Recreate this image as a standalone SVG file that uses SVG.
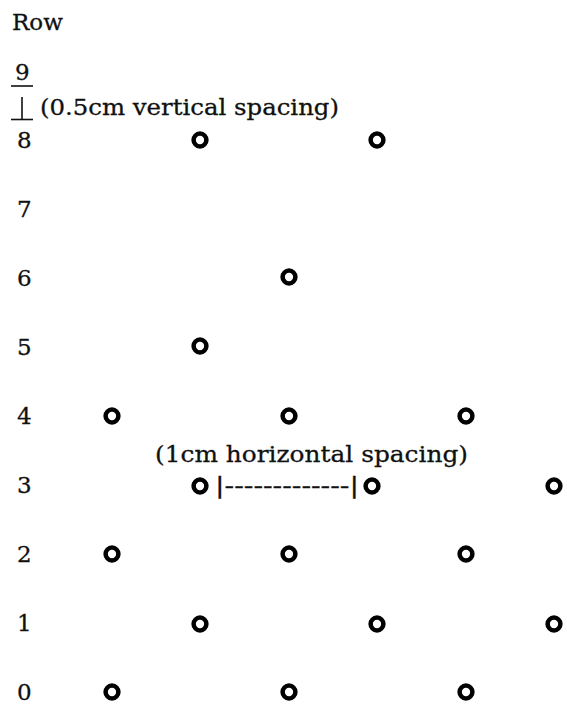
<svg xmlns="http://www.w3.org/2000/svg" width="567" height="709" viewBox="0 0 567 709">
  <style>
    .lbl { font-family: "DejaVu Serif", "Liberation Serif", serif; font-size: 23px; fill: #111; stroke: #111; stroke-width: 0.3; }
    .pin { fill: none; stroke: #000; stroke-width: 4.5; }
    .rule { stroke: #111; stroke-width: 1.6; fill: none; }
  </style>
  <defs>
    <circle id="peg" r="6.4" class="pin"/>
  </defs>
  <rect width="567" height="709" fill="#fff"/>

  <!-- header and row numbers -->
  <g id="row-axis">
    <text class="lbl" x="12" y="30">Row</text>
    <text class="lbl" x="15" y="80">9</text>
    <text class="lbl" x="17" y="148">8</text>
    <text class="lbl" x="17" y="217">7</text>
    <text class="lbl" x="17" y="286">6</text>
    <text class="lbl" x="17" y="355">5</text>
    <text class="lbl" x="17" y="424">4</text>
    <text class="lbl" x="17" y="493">3</text>
    <text class="lbl" x="17" y="562">2</text>
    <text class="lbl" x="17" y="631">1</text>
    <text class="lbl" x="17" y="700">0</text>
  </g>

  <!-- vertical spacing marker between rows 9 and 8 -->
  <g id="vertical-spacing">
    <line class="rule" x1="11" y1="86" x2="33" y2="86"/>
    <line class="rule" x1="22" y1="97" x2="22" y2="119"/>
    <line class="rule" x1="11" y1="119.5" x2="33" y2="119.5"/>
    <text class="lbl" x="40" y="115" textLength="299" lengthAdjust="spacingAndGlyphs">(0.5cm vertical spacing)</text>
  </g>

  <!-- horizontal spacing marker on row 3 -->
  <g id="horizontal-spacing">
    <text class="lbl" x="155" y="462" textLength="313" lengthAdjust="spacingAndGlyphs">(1cm horizontal spacing)</text>
    <text class="lbl" x="215" y="493" textLength="144" lengthAdjust="spacingAndGlyphs">|-------------|</text>
  </g>

  <!-- pegs -->
  <g id="row-8"><use href="#peg" x="200" y="140"/><use href="#peg" x="377" y="140"/></g>
  <g id="row-6"><use href="#peg" x="289" y="277"/></g>
  <g id="row-5"><use href="#peg" x="200" y="346"/></g>
  <g id="row-4"><use href="#peg" x="112" y="416"/><use href="#peg" x="289" y="416"/><use href="#peg" x="466" y="416"/></g>
  <g id="row-3"><use href="#peg" x="200" y="486"/><use href="#peg" x="372" y="486"/><use href="#peg" x="554" y="486"/></g>
  <g id="row-2"><use href="#peg" x="112" y="554"/><use href="#peg" x="289" y="554"/><use href="#peg" x="466" y="554"/></g>
  <g id="row-1"><use href="#peg" x="200" y="624"/><use href="#peg" x="377" y="624"/><use href="#peg" x="554" y="624"/></g>
  <g id="row-0"><use href="#peg" x="112" y="692"/><use href="#peg" x="289" y="692"/><use href="#peg" x="466" y="692"/></g>
</svg>
